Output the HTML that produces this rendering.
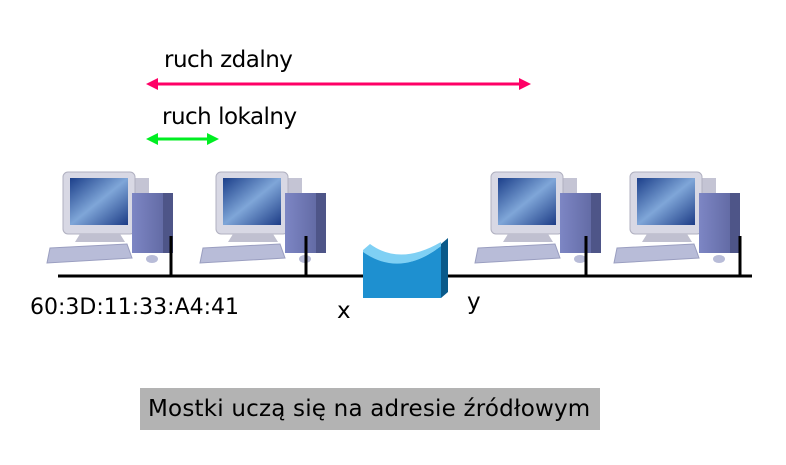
<!DOCTYPE html>
<html><head><meta charset="utf-8"><style>
body{margin:0;width:786px;height:465px;background:#fff;overflow:hidden;position:relative;font-family:"DejaVu Sans","Liberation Sans",sans-serif}
.t{position:absolute;white-space:nowrap;color:#000}
</style></head><body>
<svg width="786" height="465" style="position:absolute;left:0;top:0">
<defs>
<linearGradient id="scr" x1="0" y1="0" x2="1" y2="1"><stop offset="0" stop-color="#1c3f8a"/><stop offset=".5" stop-color="#7fa6d8"/><stop offset="1" stop-color="#1d3c86"/></linearGradient>
<linearGradient id="tw" x1="0" y1="0" x2="1" y2="0"><stop offset="0" stop-color="#7d86c4"/><stop offset="1" stop-color="#5b639c"/></linearGradient>
<g id="pc">
<rect x="88" y="18" width="16" height="52" fill="#c4c4d4"/>
<rect x="18" y="12" width="72" height="62" rx="5" fill="#d8d8e4" stroke="#b0b0c0"/>
<rect x="25" y="18" width="58" height="47" fill="url(#scr)"/>
<polygon points="35,74 75,74 80,82 30,82" fill="#c0c0d0"/>
<rect x="87" y="33" width="41" height="60" fill="url(#tw)"/>
<rect x="118" y="33" width="10" height="60" fill="#4e5588"/>
<polygon points="5,88 82,84 87,98 2,103" fill="#b8bcd8" stroke="#9a9ec0"/>
<ellipse cx="107" cy="99" rx="6" ry="4" fill="#b8bcd8"/>
</g>
</defs>
<use href="#pc" x="45" y="160"/>
<use href="#pc" x="198" y="160"/>
<use href="#pc" x="473" y="160"/>
<use href="#pc" x="612" y="160"/>
<g stroke="#000" stroke-width="3">
<line x1="58" y1="276" x2="364" y2="276"/>
<line x1="447" y1="276" x2="752" y2="276"/>
<line x1="171" y1="236" x2="171" y2="276"/>
<line x1="306" y1="236" x2="306" y2="276"/>
<line x1="586" y1="236" x2="586" y2="276"/>
<line x1="740" y1="236" x2="740" y2="276"/>
</g>
<path d="M363,250 Q400,278 441,246 L441,298 L363,298 Z" fill="#1e90d0"/>
<path d="M363,250 L370,244 Q400,266 441,242 L441,246 Q400,278 363,252 Z" fill="#7fd0f4"/>
<polygon points="441,244 448,238 448,292 441,298" fill="#0a5a8a"/>
<line x1="152" y1="84" x2="526" y2="84" stroke="#ff0066" stroke-width="3"/>
<polygon points="146,84 158,78 158,90" fill="#ff0066"/>
<polygon points="531,84 519,78 519,90" fill="#ff0066"/>
<line x1="152" y1="139" x2="213" y2="139" stroke="#00ee22" stroke-width="3"/>
<polygon points="146,139 158,133 158,145" fill="#00ee22"/>
<polygon points="219,139 207,133 207,145" fill="#00ee22"/>
</svg>
<div class="t" style="left:164px;top:47px;font-size:23px;letter-spacing:-0.5px">ruch zdalny</div>
<div class="t" style="left:162px;top:104px;font-size:23px;letter-spacing:-0.5px">ruch lokalny</div>
<div class="t" style="left:30px;top:295px;font-size:22px">60:3D:11:33:A4:41</div>
<div class="t" style="left:337px;top:298px;font-size:23px">x</div>
<div class="t" style="left:467px;top:289px;font-size:23px">y</div>
<div class="t" style="left:140px;top:388px;width:460px;height:42px;background:#b3b3b3;font-size:23px;line-height:42px;padding-left:8px;box-sizing:border-box;letter-spacing:0.2px">Mostki uczą się na adresie źródłowym</div>
</body></html>
